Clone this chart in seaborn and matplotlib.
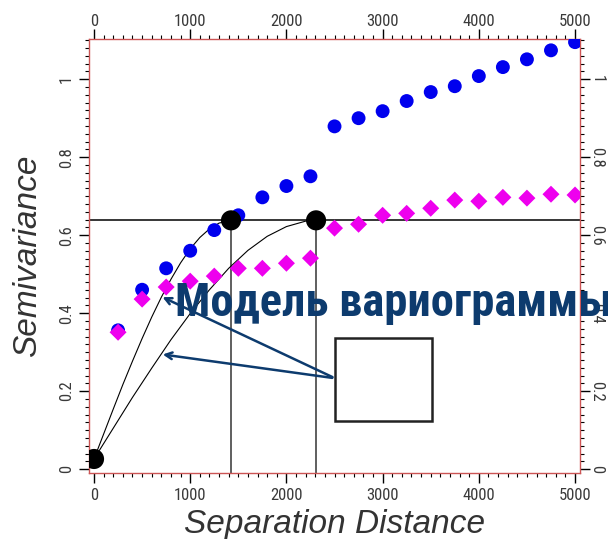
import matplotlib
matplotlib.use("Agg")
import matplotlib.pyplot as plt
import seaborn as sns
from matplotlib import font_manager
from matplotlib.ticker import MultipleLocator
from matplotlib.transforms import ScaledTranslation

# experimental semivariance, two directions
lags = [250, 500, 750, 1000, 1250, 1500, 1750, 2000, 2250, 2500,
        2750, 3000, 3250, 3500, 3750, 4000, 4250, 4500, 4750, 5000]
gamma_blue = [0.356, 0.460, 0.515, 0.560, 0.613, 0.651, 0.697, 0.726, 0.751, 0.879,
              0.900, 0.918, 0.944, 0.967, 0.982, 1.008, 1.031, 1.051, 1.074, 1.095]
gamma_pink = [0.351, 0.436, 0.467, 0.482, 0.495, 0.515, 0.515, 0.528, 0.541, 0.618,
              0.628, 0.651, 0.656, 0.669, 0.690, 0.687, 0.697, 0.695, 0.705, 0.703]

# model curves
model1_x = [0, 100, 200, 300, 400, 500, 600, 700, 800, 900, 1000, 1100, 1200, 1300, 1424]
model1_y = [0.026, 0.090, 0.154, 0.217, 0.277, 0.335, 0.390, 0.441, 0.487, 0.529,
            0.565, 0.594, 0.616, 0.631, 0.638]
model2_x = [0, 200, 400, 600, 800, 1000, 1200, 1400, 1600, 1800, 2000, 2200, 2308]
model2_y = [0.026, 0.105, 0.184, 0.259, 0.332, 0.399, 0.460, 0.515, 0.561, 0.597,
            0.622, 0.636, 0.638]

# nugget / sill / range points
key_x = [0, 1424, 2308]
key_y = [0.026, 0.638, 0.638]
sill = 0.638

title_text = "Модель вариограммы"

sns.set_style("white")
plt.rcParams['font.family'] = ['Liberation Sans', 'DejaVu Sans']

# look for a narrow sans font, fall back to Liberation Sans
names = {f.name for f in font_manager.fontManager.ttflist}
narrow_name = 'Liberation Sans'
for cand in ['Liberation Sans Narrow', 'Arial Narrow', 'Roboto Condensed',
             'DejaVu Sans Condensed', 'Open Sans Condensed', 'Noto Sans Condensed']:
    if cand in names:
        narrow_name = cand
        break
narrow = [narrow_name, 'Liberation Sans', 'DejaVu Sans']

fig = plt.figure(figsize=(6.08, 5.39), dpi=100)
ax = fig.add_axes([0.1464, 0.1224, 0.8076, 0.8052])

xmin, xmax = -52, 5052
ymin, ymax = -0.01, 1.103

# reference lines
ax.axhline(sill, color='black', lw=1.1, zorder=1)
ax.vlines(key_x[1:], ymin, key_y[1:], color='#444444', lw=1.2, zorder=1)

sns.lineplot(x=model1_x, y=model1_y, ax=ax, color='black', lw=0.8, zorder=2)
sns.lineplot(x=model2_x, y=model2_y, ax=ax, color='black', lw=0.8, zorder=2)

sns.scatterplot(x=lags, y=gamma_blue, ax=ax, color='#0000ee', marker='o',
                s=100, edgecolor='none', zorder=3)
sns.scatterplot(x=lags, y=gamma_pink, ax=ax, color='#ee00ee', marker='D',
                s=75, edgecolor='none', zorder=3)
sns.scatterplot(x=key_x, y=key_y, ax=ax, color='black', marker='o',
                s=210, edgecolor='none', zorder=4)

ax.set_xlim(xmin, xmax)
ax.set_ylim(ymin, ymax)

for sp in ax.spines.values():
    sp.set_color('#cc5555')
    sp.set_linewidth(1.0)
    sp.set_visible(True)

ax.xaxis.set_major_locator(MultipleLocator(1000))
ax.xaxis.set_minor_locator(MultipleLocator(100))
ax.yaxis.set_major_locator(MultipleLocator(0.2))
ax.yaxis.set_minor_locator(MultipleLocator(0.02))
ax.yaxis.set_major_formatter(plt.FuncFormatter(lambda v, p: f"{v:g}"))

ax.tick_params(which='both', direction='out', color='black',
               top=True, bottom=True, left=True, right=True,
               labeltop=True, labelright=True)
ax.tick_params(which='major', length=7, width=1, labelsize=12,
               labelcolor='#3a3a3a', pad=4)
ax.tick_params(which='minor', length=3, width=0.8)

ax.set_xlabel("Separation Distance", fontsize=24, style='italic',
              color='#333333', labelpad=4)
ax.set_ylabel("Semivariance", fontsize=24, style='italic',
              color='#333333', labelpad=11)

# annotation box and arrows
ax.add_patch(plt.Rectangle((2505, 0.123), 1009, 0.213, fill=True,
                           facecolor='white', edgecolor='#222222', lw=1.8, zorder=5))
for tip in [(686, 0.444), (686, 0.295)]:
    ax.annotate("", xy=tip, xytext=(2505, 0.233),
                arrowprops=dict(arrowstyle='->', color='#0d3b6e', lw=1.8,
                                mutation_scale=12), zorder=6)

title = ax.text(842, 0.392, title_text, fontsize=33, fontweight='bold',
                color='#0d3b6e', family=narrow, va='baseline', ha='left',
                clip_on=False, zorder=7)

# tick label fonts, rotation and small nudges
right_shift = ScaledTranslation(-6 / 100, 0, fig.dpi_scale_trans)
top_shift = ScaledTranslation(0, -5 / 100, fig.dpi_scale_trans)
for t in ax.xaxis.get_major_ticks():
    t.label1.set_family(narrow)
    t.label2.set_family(narrow)
    t.label2.set_transform(t.label2.get_transform() + top_shift)
for t in ax.yaxis.get_major_ticks():
    t.label1.set_family(narrow)
    t.label2.set_family(narrow)
    t.label1.set_rotation(90)
    t.label1.set_va('center')
    t.label2.set_rotation(270)
    t.label2.set_va('center')
    t.label2.set_transform(t.label2.get_transform() + right_shift)

# fit the banner text to the width it has in the original (~438 px)
fig.canvas.draw()
w = title.get_window_extent().width
title.set_fontsize(33 * 438 / w)

fig.savefig("out.png", dpi=100)
